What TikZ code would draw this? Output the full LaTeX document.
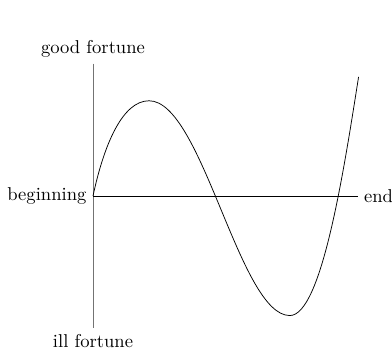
\documentclass[tikz,border=0pt]{standalone}
\begin{document}
\begin{tikzpicture}[axisline/.style={line width=0.4pt}, vaxis/.style={line width=0.4pt, draw=black!55}, curveline/.style={line width=0.4pt}]
\useasboundingbox (-1.758,-3.025) rectangle (5.652,3.705);
\coordinate (top) at (0,2.5);
\coordinate (bot) at (0,-2.5);
\coordinate (o) at (0,0);
\coordinate (r) at (5,0);
\node[anchor=south] (good) at (top) {good fortune};
\node[anchor=north] (ill) at (bot) {ill fortune};
\node[anchor=east] (beg) at (o) {beginning};
\node[anchor=west] (end) at (r) {end};
\draw[vaxis] (top) -- (bot);
\draw[axisline] (o) -- (r);
\coordinate (peak) at (1.06,1.80);
\coordinate (trough) at (3.72,-2.26);
\coordinate (fin) at (5.02,2.25);
\draw[curveline] (o) .. controls (0.21,0.98) and (0.56,1.80) .. (peak)
  .. controls (2.06,1.80) and (2.77,-2.26) .. (trough)
  .. controls (4.32,-2.26) and (4.74,0.47) .. (fin);
\end{tikzpicture}
\end{document}
